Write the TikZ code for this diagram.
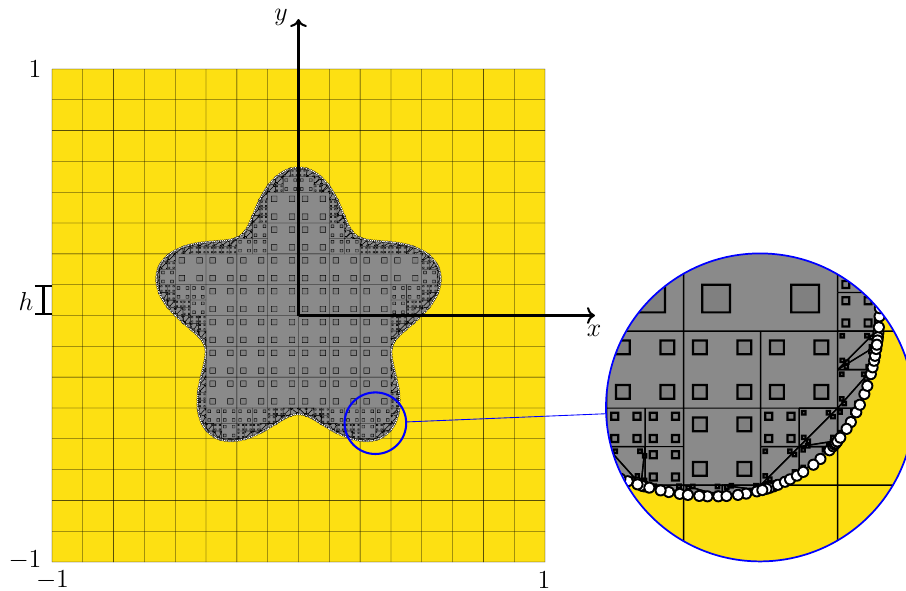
\documentclass[tikz,border=0pt]{standalone}
\usetikzlibrary{spy,arrows.meta}
\definecolor{sunny}{HTML}{FDE012}
\definecolor{stargray}{HTML}{8A8A8A}
\definecolor{sqgray}{HTML}{808080}
\newlength{\ux}\setlength{\ux}{0.4617pt}
\newcount\incnt
\newcount\nv
\newcount\ncross
\gdef\dotlist{}
% half widths in picture units (1 unit = 113.8pt)
\def\lw{0.00062}
\def\sw{0.00088}
\def\phiAt#1#2{\pgfmathparse{veclen(#1,#2)-0.5-0.1*sin(5*atan2(#2,#1))}}
\def\sample#1#2{\phiAt{#1}{#2}\ifdim\pgfmathresult pt<0pt \global\advance\incnt by 1 \fi}
\def\callcell#1#2#3#4{\edef\tmpcall{\noexpand\cellproc{#1}{#2}{#3}{#4}}\tmpcall}
\def\addv#1#2{\global\advance\nv by 1
  \expandafter\xdef\csname vx\the\nv\endcsname{#1}%
  \expandafter\xdef\csname vy\the\nv\endcsname{#2}}
\def\crossing#1#2#3#4{%
  \pgfmathsetmacro\tcr{(\pa)/((\pa)-(\pb))}%
  \pgfmathsetmacro\crx{#1+\tcr*((#3)-(#1))}%
  \pgfmathsetmacro\cry{#2+\tcr*((#4)-(#2))}%
  \addv{\crx}{\cry}%
  \global\advance\ncross by 1
  \expandafter\xdef\csname cx\the\ncross\endcsname{\crx}%
  \expandafter\xdef\csname cy\the\ncross\endcsname{\cry}}
\def\edgeproc#1#2#3#4{%
  \phiAt{#1}{#2}\let\pa\pgfmathresult
  \phiAt{#3}{#4}\let\pb\pgfmathresult
  \ifdim\pa pt<0pt
    \addv{#1}{#2}%
    \ifdim\pb pt<0pt \else \crossing{#1}{#2}{#3}{#4}\fi
  \else
    \ifdim\pb pt<0pt \crossing{#1}{#2}{#3}{#4}\fi
  \fi}
% thin line as a filled quad with an extra vertex, so it stays soft at small scale
\def\thinline#1#2#3#4{%
  \pgfmathsetmacro\dlx{(#3)-(#1)}\pgfmathsetmacro\dly{(#4)-(#2)}%
  \pgfmathsetmacro\dll{veclen(\dlx,\dly)}%
  \ifdim\dll pt>0.0005pt
    \pgfmathsetmacro\nlx{-\lw*\dly/\dll}\pgfmathsetmacro\nly{\lw*\dlx/\dll}%
    \fill[hairfill] ({#1+\nlx},{#2+\nly}) -- ({(#1+#3)/2+\nlx},{(#2+#4)/2+\nly}) -- ({#3+\nlx},{#4+\nly}) -- ({#3-\nlx},{#4-\nly}) -- ({(#1+#3)/2-\nlx},{(#2+#4)/2-\nly}) -- ({#1-\nlx},{#2-\nly}) -- cycle;
  \fi}
\def\squareat#1#2#3{% centre, half size
  \pgfmathsetmacro\ha{#3+\sw}\pgfmathsetmacro\hb{#3-\sw}%
  \fill[sqgray] ({#1-\hb},{#2-\hb}) rectangle ({#1+\hb},{#2+\hb});
  \fill[hairfill,even odd rule] ({#1-\ha},{#2-\ha}) rectangle ({#1+\ha},{#2+\ha})
     ({#1-\hb},{#2-\hb}) rectangle ({#1+\hb},{#2+\hb});}
\def\trisq#1#2#3#4{% weights, half size
  \pgfmathsetmacro\qx{#1*\ax+#2*\bx+#3*\ccx}%
  \pgfmathsetmacro\qy{#1*\ay+#2*\by+#3*\ccy}%
  \squareat{\qx}{\qy}{#4}}
\def\cutcell#1#2#3{%
  \global\nv=0 \global\ncross=0
  \pgfmathsetmacro\xb{#1+#3}\pgfmathsetmacro\yb{#2+#3}%
  \edgeproc{#1}{#2}{\xb}{#2}%
  \edgeproc{\xb}{#2}{\xb}{\yb}%
  \edgeproc{\xb}{\yb}{#1}{\yb}%
  \edgeproc{#1}{\yb}{#1}{#2}%
  \ifnum\nv>2
    \pgfmathsetmacro\hsq{0.045*#3}%
    \edef\ax{\csname vx1\endcsname}\edef\ay{\csname vy1\endcsname}%
    \edef\lastv{\the\numexpr\nv-1\relax}%
    \foreach \vi in {2,...,\lastv}{%
      \edef\vj{\the\numexpr\vi+1\relax}%
      \edef\bx{\csname vx\vi\endcsname}\edef\by{\csname vy\vi\endcsname}%
      \edef\ccx{\csname vx\vj\endcsname}\edef\ccy{\csname vy\vj\endcsname}%
      \thinline{\ax}{\ay}{\bx}{\by}%
      \thinline{\bx}{\by}{\ccx}{\ccy}%
      \thinline{\ccx}{\ccy}{\ax}{\ay}%
      \trisq{.76}{.12}{.12}{\hsq}%
      \trisq{.12}{.76}{.12}{\hsq}%
      \trisq{.12}{.12}{.76}{\hsq}%
    }%
  \fi
  \ifnum\ncross>1
    \edef\Px{\csname cx1\endcsname}\edef\Py{\csname cy1\endcsname}%
    \edef\Qx{\csname cx2\endcsname}\edef\Qy{\csname cy2\endcsname}%
    \foreach \tt in {.1057,.3943,.6057,.8943}{%
      \pgfmathsetmacro\qx{\Px+\tt*((\Qx)-(\Px))}%
      \pgfmathsetmacro\qy{\Py+\tt*((\Qy)-(\Py))}%
      \pgfmathsetmacro\qth{atan2(\qy,\qx)}%
      \pgfmathsetmacro\qr{0.5+0.1*sin(5*\qth)}%
      \pgfmathsetmacro\Xd{\qr*cos(\qth)}%
      \pgfmathsetmacro\Yd{\qr*sin(\qth)}%
      \xdef\dotlist{\unexpanded\expandafter{\dotlist}\noexpand\onedot{\Xd}{\Yd}}%
    }%
  \fi}
\def\fullcell#1#2#3{%
  \pgfmathsetmacro\xe{#1+#3}\pgfmathsetmacro\ye{#2+#3}%
  \thinline{#1}{#2}{\xe}{#2}%
  \thinline{#1}{\ye}{#1}{#2}%
  \pgfmathsetmacro\hsqf{0.09*#3}%
  \foreach \aa in {.2113,.7887}{\foreach \bb in {.2113,.7887}{%
    \pgfmathsetmacro\sqx{#1+\aa*#3}\pgfmathsetmacro\sqy{#2+\bb*#3}%
    \squareat{\sqx}{\sqy}{\hsqf}%
  }}}
\def\cellproc#1#2#3#4{%
  \begingroup
  \global\incnt=0
  \pgfmathsetmacro\hs{#3/2}%
  \pgfmathsetmacro\xm{#1+\hs}\pgfmathsetmacro\ym{#2+\hs}%
  \pgfmathsetmacro\xe{#1+#3}\pgfmathsetmacro\ye{#2+#3}%
  \sample{#1}{#2}\sample{\xm}{#2}\sample{\xe}{#2}%
  \sample{#1}{\ym}\sample{\xm}{\ym}\sample{\xe}{\ym}%
  \sample{#1}{\ye}\sample{\xm}{\ye}\sample{\xe}{\ye}%
  \ifnum\incnt=0
  \else\ifnum\incnt=9
    \fullcell{#1}{#2}{#3}%
  \else
    \ifnum#4<2
      \edef\lv{\the\numexpr#4+1\relax}%
      \callcell{#1}{#2}{\hs}{\lv}%
      \callcell{\xm}{#2}{\hs}{\lv}%
      \callcell{#1}{\ym}{\hs}{\lv}%
      \callcell{\xm}{\ym}{\hs}{\lv}%
    \else
      \cutcell{#1}{#2}{#3}%
    \fi
  \fi\fi
  \endgroup}
\tikzset{
  hairfill/.style={fill=black},
  axisline/.style={line width=.95pt,->},
  hbar/.style={line width=.95pt,{Bar[width=7.85pt]}-{Bar[width=7.85pt]}},
  every node/.style={font=\large},
}
\begin{document}
\begin{tikzpicture}[x=\ux,y=-\ux]
\coordinate (O) at (298.5,315.5);
\coordinate (axX) at (595,315.5);
\coordinate (axY) at (298.5,19);
\coordinate (hT) at (43.5,284.5);
\coordinate (hB) at (43.5,315);
\coordinate (lensC) at (375.4,423.2);
\coordinate (magC) at (760,407.4);
\begin{scope}[spy using outlines={circle,blue,line width=.95pt,magnification=5,size=142.2pt,
    every spy on node/.append style={draw=blue,line width=.95pt},
    spy connection path={\draw[blue,thin] (tikzspyonnode) -- (tikzspyinnode);}}]
\begin{scope}[shift={(298.5,315.5)},x=246.5\ux,y=246.5\ux]
  \fill[sunny] (-1,-1) rectangle (1,1);
  \foreach \i in {0,...,16}{
    \pgfmathsetmacro\gp{-1+\i/8}
    \thinline{\gp}{-1}{\gp}{1}
    \thinline{-1}{\gp}{1}{\gp}
  }
  \fill[stargray] plot[domain=0:360,samples=361] ({(0.5+0.1*sin(5*\x))*cos(\x)},{(0.5+0.1*sin(5*\x))*sin(\x)}) -- cycle;
  \foreach \i in {0,...,15}{\foreach \j in {0,...,15}{
    \pgfmathsetmacro\cxx{-1+\i*0.125}
    \pgfmathsetmacro\cyy{-1+\j*0.125}
    \callcell{\cxx}{\cyy}{0.125}{0}
  }}
  \def\onedot#1#2{\fill[black] (#1,#2) circle[radius=.56pt];\fill[white] (#1,#2) circle[radius=.38pt];}
  \dotlist
\end{scope}
\draw[axisline] (O) -- (axX);
\draw[axisline] (O) -- (axY);
\draw[hbar] (hT) -- (hB);
\node (lx) at (594,331) {$x$};
\node (ly) at (281,17) {$y$};
\node (lh) at (26,301) {$h$};
\node (ytop) at (35,69) {$1$};
\node (ybot) at (25,560.5) {$-1$};
\node (xleft) at (52.5,580) {$-1$};
\node (xright) at (544,580) {$1$};
\spy on (lensC) in node (mag) at (magC);
\end{scope}
\pgfresetboundingbox
\useasboundingbox (0,0) rectangle (906,590);
\end{tikzpicture}
\end{document}
